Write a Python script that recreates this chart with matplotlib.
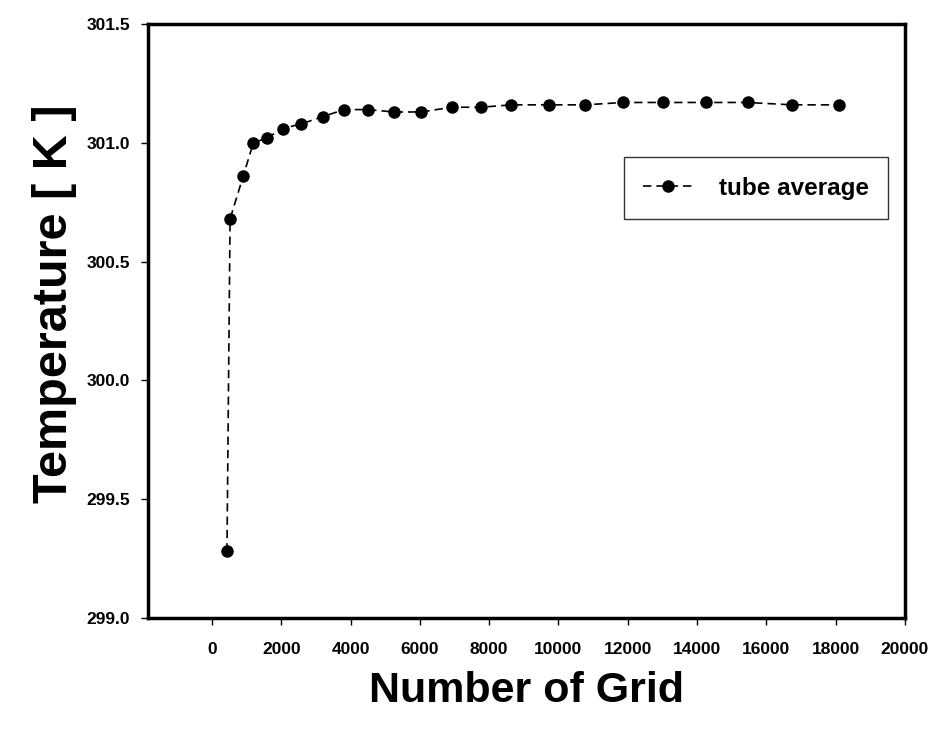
import matplotlib
matplotlib.use("Agg")
import matplotlib.pyplot as plt

plt.rcParams['font.family'] = ['Liberation Sans', 'DejaVu Sans']
plt.rcParams['font.weight'] = 'bold'

# grid independence data
grid_count = [430, 520, 900, 1190, 1580, 2040, 2580, 3190, 3810, 4500, 5250, 6040,
              6920, 7770, 8630, 9720, 10780, 11850, 13010, 14260, 15460, 16750, 18100]
tube_avg = [299.28, 300.68, 300.86, 301.00, 301.02, 301.06, 301.08, 301.11, 301.14,
            301.14, 301.13, 301.13, 301.15, 301.15, 301.16, 301.16, 301.16, 301.17,
            301.17, 301.17, 301.17, 301.16, 301.16]

x_ticks = list(range(0, 20001, 2000))
y_ticks = [299.0, 299.5, 300.0, 300.5, 301.0, 301.5]

fig = plt.figure(figsize=(9.39, 7.36), dpi=100)
ax = fig.add_axes([0.1576, 0.1603, 0.806, 0.807])

ax.plot(grid_count, tube_avg, color='black', linestyle='--', dashes=(5, 3),
        linewidth=1.2, marker='o', markersize=8, label='tube average')

ax.set_xlim(-1850, 20000)
ax.set_ylim(299.0, 301.5)
ax.set_xticks(x_ticks)
ax.set_yticks(y_ticks)
ax.set_yticklabels(['%.1f' % v for v in y_ticks])
ax.tick_params(direction='out', length=5, width=1, labelsize=12.5)
ax.tick_params(axis='y', pad=8)
ax.tick_params(axis='x', pad=12)

for s in ax.spines.values():
    s.set_linewidth(2.5)

ax.set_xlabel('Number of Grid', fontsize=31, fontweight='bold', labelpad=10)
ax.set_ylabel('Temperature [ K ]', fontsize=35, fontweight='bold')
ax.yaxis.set_label_coords(-0.094, 0.53)

leg = ax.legend(loc='upper right', bbox_to_anchor=(0.978, 0.776), fontsize=17.5,
                frameon=True, fancybox=False, handlelength=2.0, handletextpad=1.1,
                borderpad=0.8, borderaxespad=0)
leg.get_frame().set_edgecolor('black')
leg.get_frame().set_linewidth(1.0)

fig.savefig('out.png', dpi=100)
